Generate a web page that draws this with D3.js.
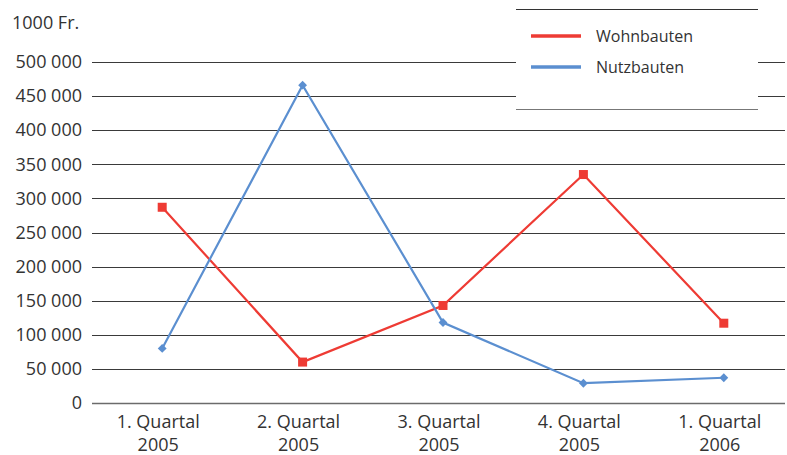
<!DOCTYPE html>
<html>
<head>
<meta charset="utf-8">
<script src="https://cdn.jsdelivr.net/npm/d3@7"></script>
<style>
  html, body { margin: 0; padding: 0; background: #fff; }
  svg { display: block; font-family: "Open Sans", "Noto Sans", sans-serif; }
</style>
</head>
<body>
<svg id="chart" width="787" height="455"></svg>
<script>
// Quarterly construction values, in 1000 Fr.
const categories = [["1. Quartal", "2005"], ["2. Quartal", "2005"], ["3. Quartal", "2005"], ["4. Quartal", "2005"], ["1. Quartal", "2006"]];
const wohnbauten = [287000, 60000, 143000, 335000, 117000];
const nutzbauten = [80000, 466000, 118000, 29000, 37000];
const yTicks = [0, 50000, 100000, 150000, 200000, 250000, 300000, 350000, 400000, 450000, 500000];
const unitLabel = "1000 Fr.";
const seriesNames = ["Wohnbauten", "Nutzbauten"];

const svg = d3.select("#chart");
const margin = { left: 92, right: 794, top: 62, bottom: 403 };

const x = d3.scaleBand()
  .domain(d3.range(categories.length))
  .range([margin.left, margin.right]);
const y = d3.scaleLinear()
  .domain([0, 500000])
  .range([margin.bottom, margin.top]);

const fmt = v => d3.format(",")(v).replace(/,/g, " ");

// Horizontal gridlines
svg.append("g")
  .selectAll("line")
  .data(yTicks)
  .join("line")
  .attr("x1", margin.left)
  .attr("x2", 785)
  .attr("y1", d => Math.round(y(d)) + 0.5)
  .attr("y2", d => Math.round(y(d)) + 0.5)
  .attr("stroke", d => d === 0 ? "#6b6b6b" : "#3a3a3a")
  .attr("stroke-width", d => d === 0 ? 1.6 : 1);

// Y axis labels
const yAxis = d3.axisLeft(y).tickValues(yTicks).tickFormat(fmt).tickSize(0).tickPadding(0);
const gy = svg.append("g").attr("transform", "translate(82,0)").call(yAxis);
gy.select(".domain").remove();
gy.selectAll("text")
  .attr("font-size", 18)
  .attr("fill", "#333")
  .attr("font-family", "'Open Sans', 'Noto Sans', sans-serif");

svg.append("text")
  .attr("x", 12).attr("y", 29)
  .attr("font-size", 18).attr("fill", "#333")
  .text(unitLabel);

// X axis category labels (set slightly left of the category centre)
const gx = svg.append("g");
categories.forEach((c, i) => {
  const lx = x(i) + x.bandwidth() / 2 - 4;
  const t = gx.append("text")
    .attr("x", lx)
    .attr("text-anchor", "middle")
    .attr("font-size", 18)
    .attr("fill", "#333");
  t.append("tspan").attr("x", lx).attr("y", 428).text(c[0]);
  t.append("tspan").attr("x", lx).attr("y", 451).text(c[1]);
});

// Legend box (white, covers gridlines)
const lg = svg.append("g");
lg.append("rect").attr("x", 516).attr("y", 9).attr("width", 242).attr("height", 101).attr("fill", "#fff");
lg.append("line").attr("x1", 516).attr("x2", 758).attr("y1", 9.5).attr("y2", 9.5).attr("stroke", "#333").attr("stroke-width", 1);
lg.append("line").attr("x1", 516).attr("x2", 758).attr("y1", 109.5).attr("y2", 109.5).attr("stroke", "#777").attr("stroke-width", 1.2);

const colors = ["#ee3b34", "#5b8fd0"];
seriesNames.forEach((n, i) => {
  const ly = 36 + i * 31;
  lg.append("line").attr("x1", 531).attr("x2", 581).attr("y1", ly).attr("y2", ly)
    .attr("stroke", colors[i]).attr("stroke-width", 3.5);
  lg.append("text").attr("x", 596).attr("y", ly + 6)
    .attr("font-size", 16).attr("fill", "#333").text(n);
});

const cx = i => x(i) + x.bandwidth() / 2;
const line = d3.line().x((d, i) => cx(i)).y(d => y(d));

// Wohnbauten line with square markers
svg.append("path").datum(wohnbauten).attr("d", line)
  .attr("fill", "none").attr("stroke", colors[0]).attr("stroke-width", 2.2);
svg.append("g").selectAll("rect").data(wohnbauten).join("rect")
  .attr("x", (d, i) => cx(i) - 4.5).attr("y", d => y(d) - 4.5)
  .attr("width", 9).attr("height", 9).attr("fill", colors[0]);

// Nutzbauten line with diamond markers
svg.append("path").datum(nutzbauten).attr("d", line)
  .attr("fill", "none").attr("stroke", colors[1]).attr("stroke-width", 2.2);
svg.append("g").selectAll("path").data(nutzbauten).join("path")
  .attr("d", d3.symbol().type(d3.symbolDiamond2).size(50))
  .attr("transform", (d, i) => `translate(${cx(i)},${y(d)})`)
  .attr("fill", colors[1]);
</script>
</body>
</html>
